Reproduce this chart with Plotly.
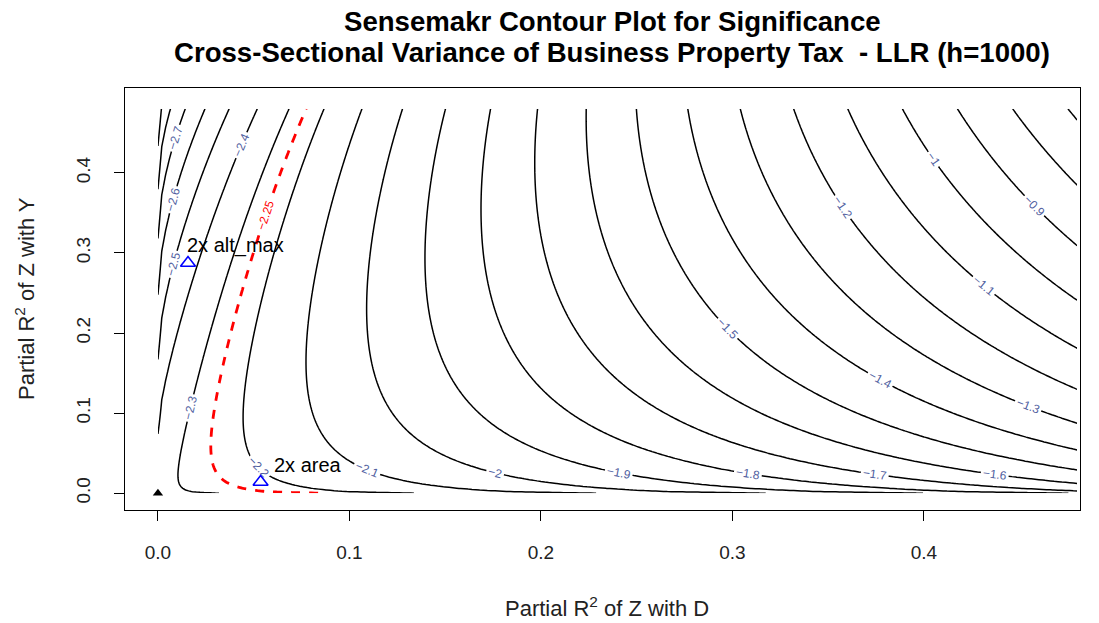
import numpy as np
import plotly.graph_objects as go

# ---- data ----
t_at_origin = -2.33         # adjusted t-value with no confounding
exp_dz = 0.40               # shrink exponent along partial R2 of Z with D
exp_yz = 0.385              # growth exponent along partial R2 of Z with Y
bias_coef = 2.63            # strength of the confounding bias term
threshold = -2.25           # significance threshold (red dashed contour)
lim_dz = 0.48
lim_yz = 0.48
level_start, level_end, level_step = -2.9, -0.7, 0.1

bound_labels = ["2x area", "2x alt_max"]
bound_r2dz = [0.0536, 0.0157]
bound_r2yz = [0.014, 0.2875]

x_ticks = [0.0, 0.1, 0.2, 0.3, 0.4]
y_ticks = [0.0, 0.1, 0.2, 0.3, 0.4]

# ---- surface ----
gx = np.linspace(0, lim_dz, 241)
gy = np.linspace(0, lim_yz, 241)
X, Y = np.meshgrid(gx, gy)
Z = (t_at_origin * (1 - X) ** exp_dz + bias_coef * np.sqrt(X * Y)) / (1 - Y) ** exp_yz

FONT = "Liberation Sans"
fig = go.Figure()
fig.add_trace(go.Contour(
    x=gx, y=gy, z=Z,
    contours=dict(start=level_start, end=level_end, size=level_step,
                  coloring="lines", showlabels=True,
                  labelfont=dict(size=12, color="#5060a0", family=FONT),
                  labelformat=".2~f"),
    colorscale=[[0, "black"], [1, "black"]],
    line=dict(width=1.5, smoothing=0),
    showscale=False, hoverinfo="skip",
))
fig.add_trace(go.Contour(
    x=gx, y=gy, z=Z,
    contours=dict(start=threshold, end=threshold, size=1,
                  coloring="lines", showlabels=True,
                  labelfont=dict(size=12, color="red", family=FONT),
                  labelformat=".2~f"),
    colorscale=[[0, "red"], [1, "red"]],
    line=dict(width=2.8, dash="dash", smoothing=0),
    showscale=False, hoverinfo="skip",
))
# unadjusted point
fig.add_trace(go.Scatter(x=[0], y=[0], mode="markers",
                         marker=dict(symbol="triangle-up", size=9, color="black"),
                         hoverinfo="skip"))
# bounds
fig.add_trace(go.Scatter(x=bound_r2dz, y=bound_r2yz, mode="markers",
                         marker=dict(symbol="triangle-up-open", size=13, color="blue",
                                     line=dict(width=1.6, color="blue")),
                         hoverinfo="skip"))
for lab, bx, by in zip(bound_labels, bound_r2dz, bound_r2yz):
    fig.add_annotation(x=bx, y=by, text=lab, showarrow=False,
                       xshift=47, yshift=17, xanchor="center", yanchor="middle",
                       font=dict(size=20, color="black", family=FONT))

# titles
fig.add_annotation(xref="paper", yref="paper", x=0.51, y=1.158,
                   text="<b>Sensemakr Contour Plot for Significance</b>",
                   showarrow=False, xanchor="center", yanchor="middle",
                   font=dict(size=27.6, color="black", family=FONT))
fig.add_annotation(xref="paper", yref="paper", x=0.51, y=1.0835,
                   text="<b>Cross-Sectional Variance of Business Property Tax  - LLR (h=1000)</b>",
                   showarrow=False, xanchor="center", yanchor="middle",
                   font=dict(size=27.6, color="black", family=FONT))
fig.add_annotation(xref="paper", yref="paper", x=0.505, y=-0.23,
                   text="Partial R<sup>2</sup> of Z with D", showarrow=False,
                   xanchor="center", yanchor="middle",
                   font=dict(size=22, color="#222", family=FONT))
fig.add_annotation(xref="paper", yref="paper", x=-0.1047, y=0.5,
                   text="Partial R<sup>2</sup> of Z with Y", showarrow=False, textangle=-90,
                   xanchor="center", yanchor="middle",
                   font=dict(size=22, color="#222", family=FONT))

axis_common = dict(showgrid=False, zeroline=False, showline=True, linecolor="black",
                   linewidth=1, mirror=True, ticks="outside", ticklen=10,
                   tickcolor="black", tickwidth=1,
                   tickfont=dict(size=19, color="#222", family=FONT))
fig.update_xaxes(range=[-0.0172, 0.4815], tickvals=x_ticks,
                 ticktext=[f"{v:.1f}" for v in x_ticks], ticklabelstandoff=15,
                 **axis_common)
fig.update_yaxes(range=[-0.021, 0.506], tickvals=y_ticks,
                 ticktext=[f"{v:.1f}" for v in y_ticks], tickangle=-90,
                 ticklabelstandoff=16, **axis_common)
fig.update_layout(width=1099, height=623, showlegend=False,
                  margin=dict(l=125, r=19, t=88, b=113),
                  plot_bgcolor="white", paper_bgcolor="white")
fig.write_html("out.html")
